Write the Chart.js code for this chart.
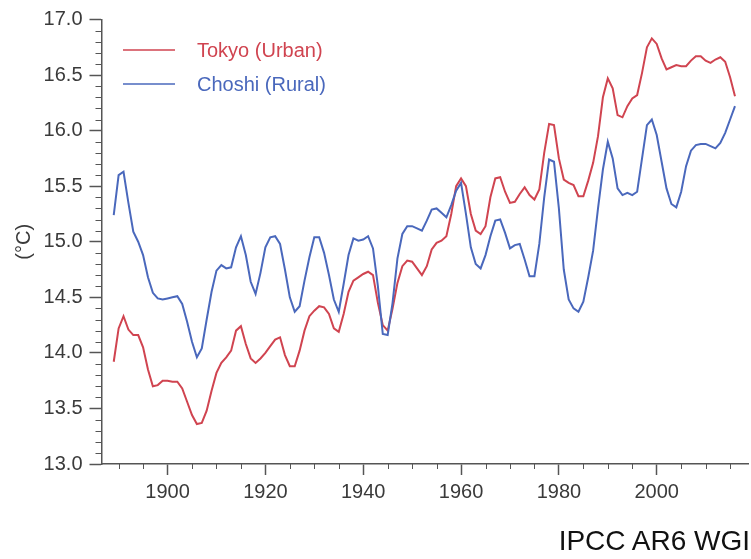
<!DOCTYPE html>
<html>
<head>
<meta charset="utf-8">
<script src="https://cdn.jsdelivr.net/npm/chart.js@4.4.0/dist/chart.umd.min.js"></script>
<style>
  html, body { margin: 0; padding: 0; background: #fff; }
  #wrap { position: relative; width: 751px; height: 559px; }
  #source {
    position: absolute; right: 1px; top: 525px;
    font: 28px "Liberation Sans", Arial, sans-serif; color: #111;
  }
</style>
</head>
<body>
<div id="wrap">
  <canvas id="tempChart" width="751" height="559"></canvas>
  <div id="source">IPCC AR6 WGI</div>
</div>
<script>
// annual mean temperature, 1889-2016
const years = [];
for (let yr = 1889; yr <= 2016; yr++) years.push(yr);

const tokyo = [
  13.92, 14.22, 14.33, 14.21, 14.16, 14.16, 14.05, 13.85, 13.70, 13.71, // 1889-1898
  13.75, 13.75, 13.74, 13.74, 13.68, 13.56, 13.44, 13.36, 13.37, 13.48, // 1899-1908
  13.66, 13.82, 13.91, 13.96, 14.02, 14.20, 14.24, 14.08, 13.95, 13.91, // 1909-1918
  13.95, 14.00, 14.06, 14.12, 14.14, 13.98, 13.88, 13.88, 14.02, 14.20, // 1919-1928
  14.33, 14.38, 14.42, 14.41, 14.35, 14.22, 14.19, 14.35, 14.55, 14.65, // 1929-1938
  14.68, 14.71, 14.73, 14.70, 14.45, 14.25, 14.20, 14.40, 14.63, 14.78, // 1939-1948
  14.83, 14.82, 14.76, 14.70, 14.78, 14.93, 14.99, 15.01, 15.05, 15.25, // 1949-1958
  15.50, 15.57, 15.50, 15.25, 15.10, 15.07, 15.14, 15.40, 15.57, 15.58, // 1959-1968
  15.45, 15.35, 15.36, 15.43, 15.49, 15.42, 15.38, 15.47, 15.80, 16.06, // 1969-1978
  16.05, 15.75, 15.56, 15.53, 15.51, 15.41, 15.41, 15.55, 15.71, 15.95, // 1979-1988
  16.30, 16.47, 16.38, 16.14, 16.12, 16.22, 16.29, 16.32, 16.52, 16.75, // 1989-1998
  16.83, 16.78, 16.65, 16.55, 16.57, 16.59, 16.58, 16.58, 16.63, 16.67, // 1999-2008
  16.67, 16.63, 16.61, 16.64, 16.66, 16.62, 16.48, 16.31                // 2009-2016
];

const choshi = [
  15.24, 15.60, 15.63, 15.35, 15.09, 15.00, 14.88, 14.68, 14.54, 14.49,
  14.48, 14.49, 14.50, 14.51, 14.44, 14.28, 14.10, 13.96, 14.04, 14.30,
  14.55, 14.74, 14.79, 14.76, 14.77, 14.95, 15.05, 14.88, 14.64, 14.53,
  14.72, 14.95, 15.04, 15.05, 14.98, 14.75, 14.50, 14.37, 14.42, 14.65,
  14.86, 15.04, 15.04, 14.90, 14.70, 14.48, 14.37, 14.62, 14.88, 15.03,
  15.01, 15.02, 15.05, 14.94, 14.60, 14.17, 14.16, 14.45, 14.85, 15.07,
  15.14, 15.14, 15.12, 15.10, 15.19, 15.29, 15.30, 15.26, 15.22, 15.33,
  15.46, 15.53, 15.25, 14.95, 14.80, 14.76, 14.88, 15.05, 15.19, 15.20,
  15.08, 14.94, 14.97, 14.98, 14.84, 14.69, 14.69, 14.98, 15.40, 15.74,
  15.72, 15.30, 14.75, 14.48, 14.40, 14.37, 14.46, 14.68, 14.92, 15.30,
  15.65, 15.90, 15.75, 15.48, 15.42, 15.44, 15.42, 15.45, 15.75, 16.05,
  16.10, 15.96, 15.72, 15.48, 15.34, 15.31, 15.45, 15.68, 15.82, 15.87,
  15.88, 15.88, 15.86, 15.84, 15.89, 15.98, 16.10, 16.22
];

const seriesLabels = ["Tokyo (Urban)", "Choshi (Rural)"];
const xTickYears = [1900, 1920, 1940, 1960, 1980, 2000];
const yTicks = [13.0, 13.5, 14.0, 14.5, 15.0, 15.5, 16.0, 16.5, 17.0];

const axisColor = "#555";
const textColor = "#3a3a3a";

Chart.defaults.font.family = '"Liberation Sans", Arial, sans-serif';
Chart.defaults.font.size = 20;
Chart.defaults.color = textColor;

// short ticks between the labelled ones
const minorTicks = {
  id: "minorTicks",
  afterDraw(chart) {
    const { ctx, scales: { x, y } } = chart;
    ctx.save();
    ctx.strokeStyle = axisColor;
    ctx.lineWidth = 1;
    ctx.beginPath();
    for (let yr = 1890; yr <= 2015; yr += 5) {
      if (xTickYears.includes(yr)) continue;
      const px = Math.round(x.getPixelForValue(yr)) + 0.5;
      ctx.moveTo(px, y.bottom);
      ctx.lineTo(px, y.bottom + 5);
    }
    for (let i = 131; i < 170; i++) {
      if (i % 5 === 0) continue;
      const py = Math.round(y.getPixelForValue(i / 10)) + 0.5;
      ctx.moveTo(x.left, py);
      ctx.lineTo(x.left - 6, py);
    }
    ctx.stroke();
    ctx.restore();
  },
};

// legend sitting inside the plot, top left
const insideLegend = {
  id: "insideLegend",
  afterDatasetsDraw(chart) {
    const ctx = chart.ctx;
    ctx.save();
    ctx.font = '20px "Liberation Sans", Arial, sans-serif';
    ctx.textBaseline = "middle";
    chart.data.datasets.forEach((ds, i) => {
      const ly = 50 + i * 34;
      ctx.strokeStyle = ds.borderColor;
      ctx.lineWidth = 1.5;
      ctx.beginPath();
      ctx.moveTo(123, ly);
      ctx.lineTo(175, ly);
      ctx.stroke();
      ctx.fillStyle = ds.borderColor;
      ctx.fillText(ds.label, 197, ly + 1);
    });
    ctx.restore();
  },
};

const ctx = document.getElementById("tempChart").getContext("2d");

const tempChart = new Chart(ctx, {
  type: "line",
  data: {
    datasets: [
      {
        label: seriesLabels[0],
        data: years.map((yr, i) => ({ x: yr, y: tokyo[i] })),
        borderColor: "#d04450",
        borderWidth: 2,
        pointRadius: 0,
        tension: 0,
        order: 1,
      },
      {
        label: seriesLabels[1],
        data: years.map((yr, i) => ({ x: yr, y: choshi[i] })),
        borderColor: "#4a68bc",
        borderWidth: 2,
        pointRadius: 0,
        tension: 0,
        order: 0,
      },
    ],
  },
  options: {
    responsive: false,
    animation: false,
    devicePixelRatio: 1,
    layout: { padding: { top: 19.5, right: 3, left: 0, bottom: 0 } },
    plugins: {
      legend: { display: false },
      tooltip: { enabled: false },
    },
    scales: {
      x: {
        type: "linear",
        min: 1886.5,
        max: 2018.66,
        afterFit: (s) => { s.height = 95; },
        afterBuildTicks: (s) => { s.ticks = xTickYears.map((v) => ({ value: v })); },
        ticks: {
          padding: 5,
          color: textColor,
          callback: (v) => String(v),
          maxRotation: 0,
        },
        grid: {
          display: true,
          drawOnChartArea: false,
          tickLength: 11,
          tickColor: axisColor,
          tickWidth: 1.5,
        },
        border: { display: true, color: axisColor, width: 1.5 },
      },
      y: {
        min: 13,
        max: 17,
        afterFit: (s) => { s.width = 101.5; },
        afterBuildTicks: (s) => { s.ticks = yTicks.map((v) => ({ value: v })); },
        ticks: {
          padding: 7,
          color: textColor,
          callback: (v) => Number(v).toFixed(1),
        },
        grid: {
          display: true,
          drawOnChartArea: false,
          tickLength: 12,
          tickColor: axisColor,
          tickWidth: 1.5,
        },
        border: { display: true, color: axisColor, width: 1.5 },
        title: {
          display: true,
          text: "(°C)",
          color: textColor,
          font: { size: 20 },
          padding: { top: 12, bottom: 0 },
        },
      },
    },
  },
  plugins: [minorTicks, insideLegend],
});
</script>
</body>
</html>
